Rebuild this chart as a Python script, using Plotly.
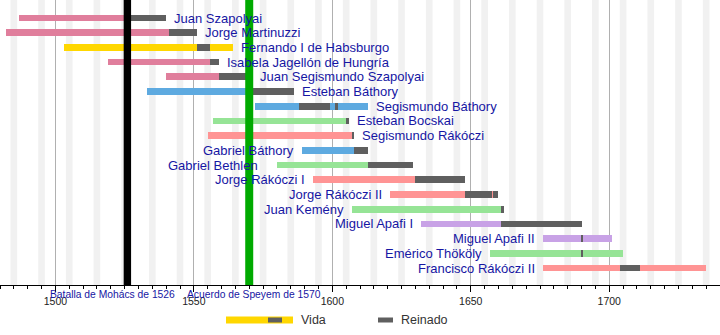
import plotly.graph_objects as go

# Príncipes y regentes de Transilvania: años de vida y de reinado
nombres = [
    "Juan Szapolyai", "Jorge Martinuzzi", "Fernando I de Habsburgo",
    "Isabela Jagellón de Hungría", "Juan Segismundo Szapolyai", "Esteban Báthory",
    "Segismundo Báthory", "Esteban Bocskai", "Segismundo Rákóczi",
    "Gabriel Báthory", "Gabriel Bethlen", "Jorge Rákóczi I",
    "Jorge Rákóczi II", "Juan Kemény", "Miguel Apafi I",
    "Miguel Apafi II", "Emérico Thököly", "Francisco Rákóczi II",
]
nacimiento = [1487, 1482, 1503, 1519, 1540, 1533, 1572, 1557, 1555,
              1589, 1580, 1593, 1621, 1607, 1632, 1676, 1657, 1676]
muerte = [1540, 1551, 1564, 1559, 1571, 1586, 1613, 1606, 1608,
          1613, 1629, 1648, 1660, 1662, 1690, 1701, 1705, 1735]
casa = ["szapolyai", "szapolyai", "habsburgo", "szapolyai", "szapolyai", "bathory",
        "bathory", "otra", "rakoczi", "bathory", "otra", "rakoczi",
        "rakoczi", "otra", "apafi", "apafi", "otra", "rakoczi"]
# periodos de reinado (inicio, fin) por persona
reinados = [
    [(1526, 1540)], [(1541, 1551)], [(1551, 1556)], [(1556, 1559)],
    [(1559, 1571)], [(1571, 1586)], [(1588, 1599), (1601, 1602)],
    [(1605, 1606)], [(1607, 1608)], [(1608, 1613)], [(1613, 1629)],
    [(1630, 1648)], [(1648, 1657.5), (1658, 1660)], [(1661, 1662)],
    [(1661, 1690)], [(1690, 1690.4)], [(1690, 1690.4)], [(1704, 1711)],
]
# hechos señalados en el eje
eventos_anio = [1526, 1570]
eventos_texto = ["Batalla de Mohács de 1526", "Acuerdo de Speyem de 1570"]
ticks_anios = [1500, 1550, 1600, 1650, 1700]

COLORES = {
    "szapolyai": "#e07e9c", "habsburgo": "#ffd700", "bathory": "#5eaae0",
    "otra": "#96e496", "rakoczi": "#ff9494", "apafi": "#c8a2e6",
}
GRIS_REINADO = "#5f5f5f"
AZUL_TEXTO = "#1616a3"
FUENTE = "Liberation Sans, Arial, sans-serif"
EVENTO_COLOR = ["#000000", "#00aa00"]
EVENTO_ANCHO = [7.4, 8]
EVENTO_XSHIFT = [-15, 5]
ETIQ_IZQ_DESDE = 9        # a partir de esta fila la etiqueta va a la izquierda
ETIQ_SEP = {"Gabriel Bethlen": 17}

n = len(nombres)
filas = list(range(n))
GROSOR = 0.455

fig = go.Figure()

# barras de vida
fig.add_trace(go.Bar(
    orientation="h", y=filas,
    x=[m - b for b, m in zip(nacimiento, muerte)], base=nacimiento,
    width=GROSOR, marker=dict(color=[COLORES[c] for c in casa], line=dict(width=0)),
    showlegend=False, hoverinfo="skip",
))

# barras de reinado
ry, rx, rb = [], [], []
for i, periodos in enumerate(reinados):
    for a, b in periodos:
        ry.append(i)
        rb.append(a)
        rx.append(b - a)
fig.add_trace(go.Bar(
    orientation="h", y=ry, x=rx, base=rb, width=GROSOR,
    marker=dict(color=GRIS_REINADO, line=dict(width=0)),
    showlegend=False, hoverinfo="skip",
))

shapes = []
# franjas grises tenues del fondo
for anio in range(1485, 1740, 10):
    shapes.append(dict(type="rect", xref="x", yref="paper", x0=anio - 1.2, x1=anio + 1.2,
                       y0=0, y1=1, fillcolor="#f1f1f1", line=dict(width=0), layer="below"))
# líneas de los hechos
for anio, col, w in zip(eventos_anio, EVENTO_COLOR, EVENTO_ANCHO):
    shapes.append(dict(type="line", xref="x", yref="paper", x0=anio, x1=anio, y0=0, y1=1,
                       line=dict(color=col, width=w), layer="above"))

# leyenda dibujada a mano
PH = 285.0
def py(p):
    return (PH - p) / PH
def px(p):
    return p / 720.0
shapes += [
    dict(type="rect", xref="paper", yref="paper", x0=px(226), x1=px(293),
         y0=py(323.5), y1=py(316.5), fillcolor="#ffd700", line=dict(width=0)),
    dict(type="rect", xref="paper", yref="paper", x0=px(268), x1=px(282),
         y0=py(322.5), y1=py(317.5), fillcolor=GRIS_REINADO, line=dict(width=0)),
    dict(type="rect", xref="paper", yref="paper", x0=px(378), x1=px(393),
         y0=py(322.5), y1=py(317.5), fillcolor=GRIS_REINADO, line=dict(width=0)),
]

annotations = []
for i, nom in enumerate(nombres):
    sep = ETIQ_SEP.get(nom, 6)
    fin = max([muerte[i]] + [b for _, b in reinados[i]])
    if i < ETIQ_IZQ_DESDE:
        annotations.append(dict(x=fin, y=i, xref="x", yref="y", text=nom, showarrow=False,
                                xanchor="left", yanchor="middle", xshift=sep,
                                font=dict(family=FUENTE, size=13, color=AZUL_TEXTO)))
    else:
        annotations.append(dict(x=nacimiento[i], y=i, xref="x", yref="y", text=nom,
                                showarrow=False, xanchor="right", yanchor="middle",
                                xshift=-sep,
                                font=dict(family=FUENTE, size=13, color=AZUL_TEXTO)))

for anio, txt, xs in zip(eventos_anio, eventos_texto, EVENTO_XSHIFT):
    annotations.append(dict(x=anio, y=py(294), xref="x", yref="paper", text=txt,
                            showarrow=False, xanchor="center", yanchor="middle", xshift=xs,
                            font=dict(family=FUENTE, size=10.3, color=AZUL_TEXTO)))

annotations += [
    dict(x=px(299), y=py(320), xref="paper", yref="paper", text="Vida", showarrow=False,
         xanchor="left", yanchor="middle", font=dict(family=FUENTE, size=12.5, color="#333333")),
    dict(x=px(399), y=py(320), xref="paper", yref="paper", text="Reinado", showarrow=False,
         xanchor="left", yanchor="middle", font=dict(family=FUENTE, size=12.5, color="#333333")),
]

s = 250.0 / 17.0
fig.update_layout(
    width=720, height=335,
    margin=dict(l=0, r=0, t=0, b=50, pad=0),
    paper_bgcolor="white", plot_bgcolor="white",
    barmode="overlay", bargap=0,
    shapes=shapes, annotations=annotations,
    font=dict(family=FUENTE),
    xaxis=dict(
        range=[1480, 1740], tickvals=ticks_anios, ticktext=[str(t) for t in ticks_anios],
        ticks="outside", ticklen=6, tickcolor="black", tickwidth=1,
        minor=dict(dtick=5, tick0=1480, ticks="outside", ticklen=3, tickcolor="black",
                   showgrid=False),
        showgrid=True, gridcolor="#b0b0b0", gridwidth=1,
        showline=True, linecolor="black", linewidth=1,
        tickfont=dict(family=FUENTE, size=10.5, color="#222222"),
        zeroline=False, fixedrange=True,
    ),
    yaxis=dict(
        range=[(285 - 18) / s, -18 / s], showticklabels=False, ticks="",
        showgrid=False, zeroline=False, showline=True, linecolor="black", linewidth=3,
        fixedrange=True,
    ),
)

fig.write_html("out.html")
